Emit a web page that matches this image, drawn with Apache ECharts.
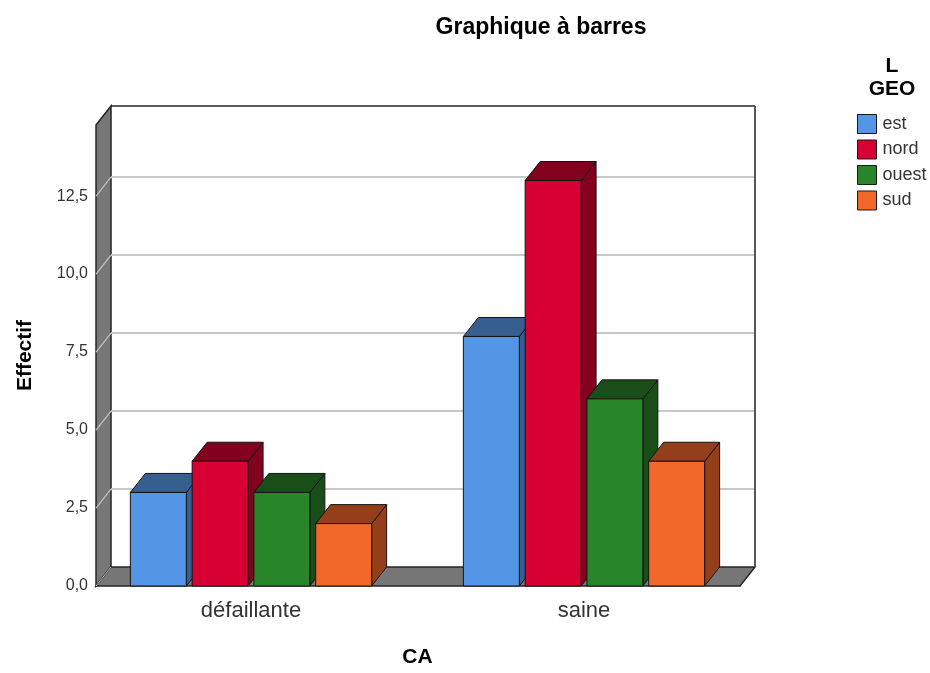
<!DOCTYPE html>
<html>
<head>
<meta charset="utf-8">
<script src="https://cdn.jsdelivr.net/npm/echarts@6/dist/echarts.min.js"></script>
<style>
  html, body { margin: 0; padding: 0; background: #ffffff; }
  #chart { width: 930px; height: 673px; }
</style>
</head>
<body>
<div id="chart"></div>
<script>
// Counts per CA category, split by GEO region
const categories = ['défaillante', 'saine'];
const groups = ['est', 'nord', 'ouest', 'sud'];
const est = [3, 8];
const nord = [4, 13];
const ouest = [3, 6];
const sud = [2, 4];
const yTicks = [0, 2.5, 5, 7.5, 10, 12.5];
const yMax = 14.78;

const seriesValues = { est: est, nord: nord, ouest: ouest, sud: sud };
// front face colour, shaded (top / side) colour
const palette = {
  est:   ['#5595e5', '#365e8f'],
  nord:  ['#d60032', '#83001f'],
  ouest: ['#29852a', '#1a4e18'],
  sud:   ['#f2682b', '#943e1a']
};

// 3D depth offset of the box in pixels
const DX = 15, DY = -19;
const FONT = 'Arial, "Liberation Sans", Helvetica, sans-serif';

const chart = echarts.init(document.getElementById('chart'), null, { renderer: 'canvas' });

// Walls, floor and back-wall grid lines
function renderFrame(params, api) {
  const cs = params.coordSys;
  const xl = cs.x + 11.5;
  const xr = cs.x + cs.width - 10.5;
  const yb = api.coord([0, 0])[1];
  const yt = api.coord([0, yMax])[1];
  const children = [];
  // back wall
  children.push({
    type: 'rect',
    shape: { x: xl + DX, y: yt + DY, width: xr - xl, height: yb - yt },
    style: { fill: '#ffffff', stroke: null }
  });
  // left wall
  children.push({
    type: 'polygon',
    shape: { points: [[xl, yt], [xl + DX, yt + DY], [xl + DX, yb + DY], [xl, yb]] },
    style: { fill: '#777777', stroke: '#262626', lineWidth: 1.5 }
  });
  // grid lines on the back wall and their slants on the side wall
  yTicks.forEach(function (t) {
    if (t === 0) return;
    const y = api.coord([0, t])[1];
    children.push({
      type: 'line',
      shape: { x1: xl + DX, y1: y + DY, x2: xr + DX, y2: y + DY },
      style: { stroke: '#c8c8c8', lineWidth: 2 }
    });
    children.push({
      type: 'line',
      shape: { x1: xl, y1: y, x2: xl + DX, y2: y + DY },
      style: { stroke: '#c4c4c4', lineWidth: 1.2 }
    });
  });
  // floor
  children.push({
    type: 'polygon',
    shape: { points: [[xl, yb], [xl + DX, yb + DY], [xr + DX, yb + DY], [xr, yb]] },
    style: { fill: '#777777', stroke: '#262626', lineWidth: 1.5 }
  });
  // slant on the side wall at zero
  children.push({
    type: 'line',
    shape: { x1: xl, y1: yb, x2: xl + DX, y2: yb + DY },
    style: { stroke: '#c4c4c4', lineWidth: 1 }
  });
  // back wall top edge
  children.push({
    type: 'line',
    shape: { x1: xl + DX, y1: yt + DY, x2: xr + DX, y2: yt + DY },
    style: { stroke: '#262626', lineWidth: 1.5 }
  });
  // back wall right edge
  children.push({
    type: 'line',
    shape: { x1: xr + DX, y1: yt + DY, x2: xr + DX, y2: yb + DY },
    style: { stroke: '#555555', lineWidth: 2 }
  });
  return { type: 'group', children: children };
}

// One 3D bar: side, top, then front face
function makeBarRenderer(index, name) {
  return function (params, api) {
    const c = api.value(0);
    const v = api.value(1);
    const base = api.coord([c, 0]);
    const top = api.coord([c, v]);
    const band = api.size([1, 0])[0];
    const w = band * 0.168;
    const pitch = band * 0.1855;
    const x0 = base[0] + (index - 1.5) * pitch - w / 2;
    const x1 = x0 + w;
    const yb = base[1];
    const yt = top[1];
    const stroke = '#141414';
    return {
      type: 'group',
      children: [
        {
          type: 'polygon',
          shape: { points: [[x1, yt], [x1 + DX, yt + DY], [x1 + DX, yb + DY], [x1, yb]] },
          style: { fill: palette[name][1], stroke: stroke, lineWidth: 1 }
        },
        {
          type: 'polygon',
          shape: { points: [[x0, yt], [x0 + DX, yt + DY], [x1 + DX, yt + DY], [x1, yt]] },
          style: { fill: palette[name][1], stroke: stroke, lineWidth: 1 }
        },
        {
          type: 'rect',
          shape: { x: x0, y: yt, width: w, height: yb - yt },
          style: { fill: palette[name][0], stroke: stroke, lineWidth: 1 }
        }
      ]
    };
  };
}

const series = [{
  type: 'custom',
  name: '__frame',
  silent: true,
  z: 1,
  renderItem: renderFrame,
  data: [[0, 0]]
}];

groups.forEach(function (g, i) {
  series.push({
    type: 'custom',
    name: g,
    z: 2 + i,
    itemStyle: { color: palette[g][0] },
    renderItem: makeBarRenderer(i, g),
    data: seriesValues[g].map(function (v, c) { return [c, v]; })
  });
});

const option = {
  animation: false,
  backgroundColor: '#ffffff',
  title: [
    {
      text: 'Graphique à barres',
      left: 541,
      top: 16,
      textAlign: 'center',
      padding: 0,
      textStyle: { fontFamily: FONT, fontSize: 23, fontWeight: 'bold', color: '#000000' }
    },
    {
      text: 'L\nGEO',
      left: 892,
      top: 55,
      textAlign: 'center',
      padding: 0,
      textStyle: { fontFamily: FONT, fontSize: 21, fontWeight: 'bold', color: '#000000', lineHeight: 23 }
    }
  ],
  legend: {
    data: groups.map(function (g) { return { name: g, icon: 'rect' }; }),
    orient: 'vertical',
    left: 857,
    top: 114,
    padding: 0,
    itemWidth: 19,
    itemHeight: 19,
    itemGap: 5.5,
    itemStyle: { borderColor: '#1a1a1a', borderWidth: 1 },
    textStyle: { fontFamily: FONT, fontSize: 18, color: '#333333', padding: [0, 0, 0, 1] },
    selectedMode: false
  },
  grid: {
    left: 84.5,
    right: 179.5,
    top: 125,
    bottom: 81,
    containLabel: false
  },
  xAxis: {
    type: 'category',
    data: categories,
    name: 'CA',
    nameLocation: 'middle',
    nameGap: 61,
    nameTextStyle: { fontFamily: FONT, fontSize: 21, fontWeight: 'bold', color: '#000000' },
    axisLine: { show: false },
    axisTick: { show: false },
    splitLine: { show: false },
    axisLabel: { fontFamily: FONT, fontSize: 22, color: '#333333', margin: 14 }
  },
  yAxis: {
    type: 'value',
    min: 0,
    max: yMax,
    interval: 2.5,
    name: 'Effectif',
    nameLocation: 'middle',
    nameGap: 49,
    nameTextStyle: { fontFamily: FONT, fontSize: 21, fontWeight: 'bold', color: '#000000' },
    axisLine: { show: false },
    axisTick: { show: false },
    splitLine: { show: false },
    axisLabel: {
      fontFamily: FONT,
      fontSize: 16,
      color: '#333333',
      margin: -3.5,
      verticalAlign: 'middle',
      padding: [3, 0, 0, 0],
      showMaxLabel: false,
      formatter: function (v) {
        return yTicks.indexOf(v) >= 0 ? v.toFixed(1).replace('.', ',') : '';
      }
    }
  },
  series: series
};

chart.setOption(option);
</script>
</body>
</html>
